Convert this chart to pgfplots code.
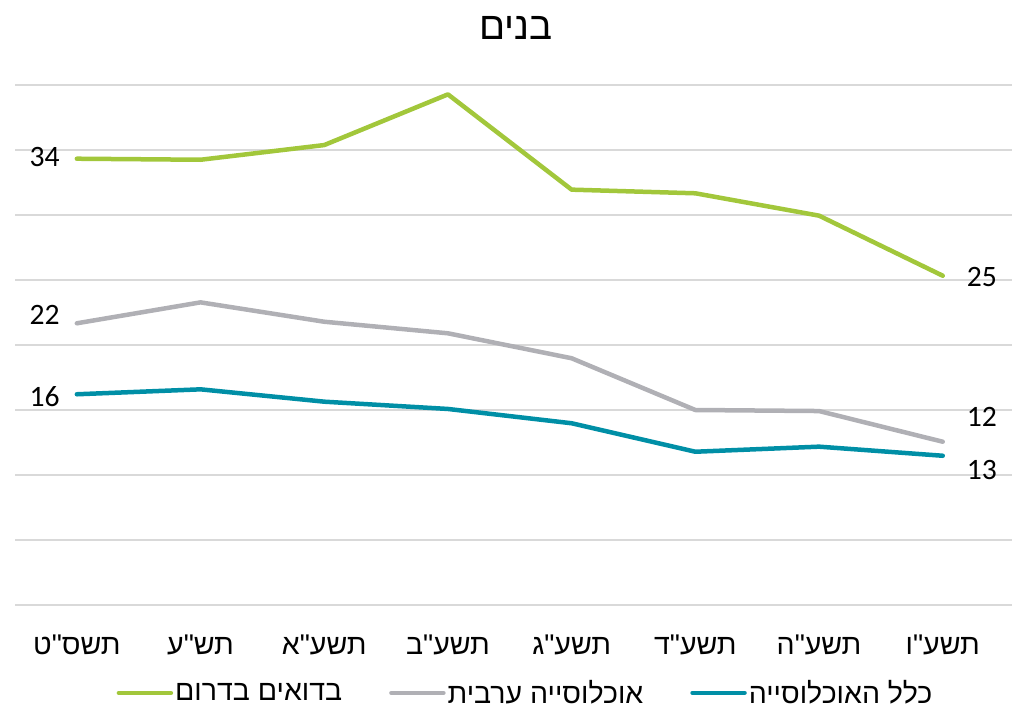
\documentclass[border=0pt]{standalone}
\usepackage{fontspec}
\usepackage{pgfplots}
\pgfplotsset{compat=1.18}
\setmainfont{Carlito}
\newfontfamily\hebfont[Script=Hebrew]{Liberation Sans}
\TeXXeTstate=1
\definecolor{cgreen}{RGB}{162,199,59}
\definecolor{cgray}{RGB}{176,176,181}
\definecolor{cblue}{RGB}{0,143,166}
\definecolor{gridgray}{RGB}{217,217,217}
\begin{document}
\begin{tikzpicture}[x=1pt,y=1pt]
\path[use as bounding box] (0,0) rectangle (1012,710);
\node[font=\hebfont\fontsize{38.5}{44}\selectfont, anchor=center] at (516,682) {\beginR בנים\endR};
\begin{axis}[
  at={(15pt,105pt)}, anchor=south west,
  scale only axis, width=997pt, height=520pt,
  xmin=-0.5, xmax=7.56, ymin=0, ymax=40,
  ytick={0,5,...,40}, yticklabels={},
  ymajorgrids, grid style={color=gridgray, line width=1.5pt},
  axis line style={draw=none},
  major tick length=0pt,
  xtick={0,...,7},
  xticklabels={{\beginR תשס"ט\endR},{\beginR תש"ע\endR},{\beginR תשע"א\endR},{\beginR תשע"ב\endR},{\beginR תשע"ג\endR},{\beginR תשע"ד\endR},{\beginR תשע"ה\endR},{\beginR תשע"ו\endR}},
  xticklabel style={font=\hebfont\fontsize{28.5}{33}\selectfont, anchor=center, yshift=-40pt},
  clip=false,
  legend columns=3,
  legend style={at={(0.512,-0.169)}, anchor=center, draw=none, fill=none,
    font=\hebfont\fontsize{28.5}{33}\selectfont,
    /tikz/every even column/.append style={column sep=45pt},
    inner sep=0pt},
  legend cell align=left,
  legend image code/.code={\draw[#1, line cap=round] (0pt,0pt) -- (52pt,0pt);},
  every axis plot/.append style={line width=4.5pt, line join=round, line cap=round},
]
\addplot[cgreen] coordinates {(0,34.33) (1,34.25) (2,35.38) (3,39.28) (4,31.95) (5,31.67) (6,29.95) (7,25.33)};
\addlegendentry{\beginR בדואים בדרום\endR}
\addplot[cgray] coordinates {(0,21.67) (1,23.28) (2,21.79) (3,20.9) (4,18.98) (5,15.0) (6,14.92) (7,12.56)};
\addlegendentry{\beginR אוכלוסייה ערבית\endR}
\addplot[cblue] coordinates {(0,16.21) (1,16.59) (2,15.64) (3,15.08) (4,13.98) (5,11.79) (6,12.18) (7,11.48)};
\addlegendentry{\beginR כלל האוכלוסייה\endR}
\tikzset{lab/.style={inner sep=0pt, font=\fontsize{29.6}{32}\selectfont}}
\node[lab, anchor=east] at (axis cs:0,34.46) [xshift=-17pt] {34};
\node[lab, anchor=east] at (axis cs:0,22.3) [xshift=-17pt] {22};
\node[lab, anchor=east] at (axis cs:0,16.0) [xshift=-17pt] {16};
\node[lab, anchor=west] at (axis cs:7,25.2) [xshift=24pt] {25};
\node[lab, anchor=west] at (axis cs:7,14.46) [xshift=24pt] {12};
\node[lab, anchor=west] at (axis cs:7,10.4) [xshift=24pt] {13};
\end{axis}
\end{tikzpicture}
\end{document}
